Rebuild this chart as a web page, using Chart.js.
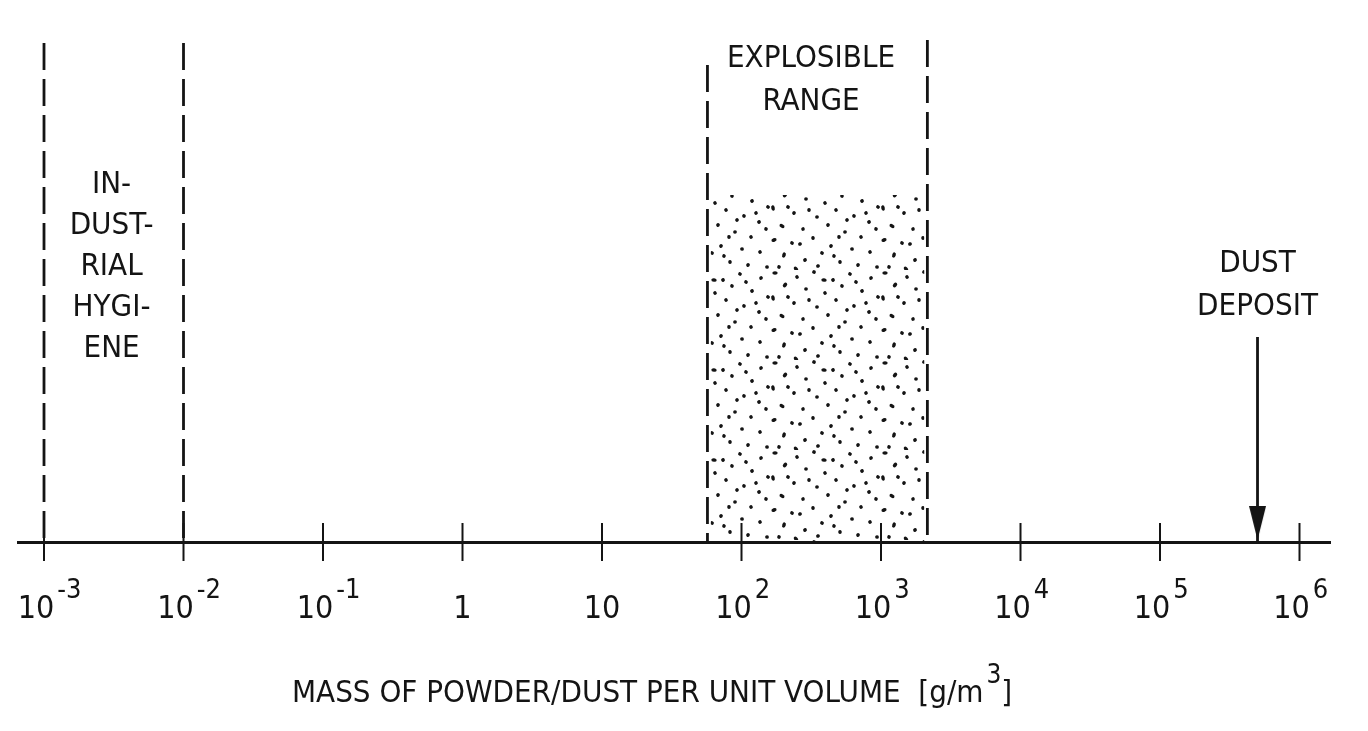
<!DOCTYPE html>
<html>
<head>
<meta charset="utf-8">
<script src="https://cdn.jsdelivr.net/npm/chart.js@4.4.1/dist/chart.umd.min.js"></script>
<style>
  html, body { margin: 0; padding: 0; background: #fff; }
</style>
</head>
<body>
<canvas id="dustChart" width="1368" height="731"></canvas>
<script>
// ---- data ----
const decades = [1e-3, 1e-2, 1e-1, 1, 10, 1e2, 1e3, 1e4, 1e5, 1e6];
const tickBases = ['10', '10', '10', '1', '10', '10', '10', '10', '10', '10'];
const tickExps = ['-3', '-2', '-1', '', '', '2', '3', '4', '5', '6'];
const hygieneBounds = [1e-3, 1e-2];
const explosibleBounds = [57, 2150];
const dustDeposit = 5e5;
const hygieneText = ['IN-', 'DUST-', 'RIAL', 'HYGI-', 'ENE'];
const explosibleText = ['EXPLOSIBLE', 'RANGE'];
const depositText = ['DUST', 'DEPOSIT'];
const axisTitle = 'MASS OF POWDER/DUST PER UNIT VOLUME  [g/m';

// ---- layout / style ----
const INK = '#141414';
const FONT = "'Liberation Sans Narrow', 'DejaVu Sans Condensed', sans-serif";
const DASH = [27, 9];

const labelBlocks = [
  { x: 3.05e-3, lines: hygieneText, top: 349, step: 41 },
  { x: 315, lines: explosibleText, top: 475, step: 43 },
  { x: dustDeposit, lines: depositText, top: 270, step: 43 }
];

// stipple pattern for the explosible range
function stipple() {
  const c = document.createElement('canvas');
  c.width = 110; c.height = 90;
  const g = c.getContext('2d');
  g.fillStyle = INK;
  const dots = [[5,3],[27,7],[44,2],[63,10],[80,4],[101,8],
    [15,15],[36,19],[55,23],[72,16],[92,21],[108,27],
    [3,28],[24,33],[47,37],[66,30],[84,36],[99,42],
    [12,46],[33,49],[58,45],[75,52],[91,57],[106,49],
    [4,60],[22,63],[43,58],[61,66],[82,69],[100,72],
    [14,75],[35,80],[52,73],[70,82],[88,85],[107,87],
    [26,89],[9,87],[48,86],[18,27],[39,30],[77,40],
    [54,10],[96,33],[64,76],[30,64],[86,12],[69,57]];
  dots.forEach(([x, y], i) => {
    g.beginPath();
    g.ellipse(x, y, i % 6 === 0 ? 2.7 : 1.9, 1.8, i * 0.9, 0, Math.PI * 2);
    g.fill();
  });
  return g.createPattern(c, 'repeat');
}

// arrow head used as point style
function arrowHead() {
  const c = document.createElement('canvas');
  c.width = 17; c.height = 34;
  const g = c.getContext('2d');
  g.fillStyle = INK;
  g.beginPath();
  g.moveTo(0, 0); g.lineTo(17, 0); g.lineTo(8.5, 34); g.closePath();
  g.fill();
  return c;
}

function vline(x, top, dash) {
  return {
    data: [{ x: x, y: top }, { x: x, y: 0 }],
    showLine: true, borderColor: INK, borderWidth: 2.8, borderDash: dash || [],
    pointRadius: 0, clip: false, order: 2
  };
}

// text with a raised exponent; anchor = centre of the base part
function drawSup(ctx, parts, x, y, size, shift) {
  const supSize = Math.round(size * 0.85);
  ctx.font = size + 'px ' + FONT;
  const wb = ctx.measureText(parts[0].t).width;
  let cx = x - wb / 2 - (shift || 0);
  parts.forEach(p => {
    if (!p.t) return;
    ctx.font = (p.sup ? supSize : size) + 'px ' + FONT;
    const off = p.sup ? 3 : 0;
    ctx.fillText(p.t, cx + off, p.sup ? y - size * 0.62 : y);
    cx += ctx.measureText(p.t).width + off;
  });
}

const textPlugin = {
  id: 'figureText',
  afterDatasetsDraw(chart) {
    const { ctx, scales: { x, y } } = chart;
    ctx.save();
    ctx.fillStyle = INK;
    ctx.textBaseline = 'alphabetic';
    ctx.textAlign = 'left';
    // tick labels
    decades.forEach((v, i) => {
      drawSup(ctx, [{ t: tickBases[i] }, { t: tickExps[i], sup: true }],
        x.getPixelForValue(v), y.bottom + 76, 32, tickExps[i] ? 8 : 0);
    });
    // axis title
    ctx.font = '31px ' + FONT;
    drawSup(ctx, [{ t: axisTitle }, { t: '3', sup: true }, { t: ']' }],
      292 + ctx.measureText(axisTitle).width / 2, y.bottom + 160, 31, 0);
    // region labels
    ctx.font = '31px ' + FONT;
    ctx.textAlign = 'center';
    labelBlocks.forEach(b => {
      b.lines.forEach((t, i) => {
        ctx.fillText(t, x.getPixelForValue(b.x), y.getPixelForValue(b.top - i * b.step));
      });
    });
    ctx.restore();
  }
};

new Chart(document.getElementById('dustChart'), {
  type: 'scatter',
  data: {
    datasets: [
      // stippled explosible range
      {
        data: [{ x: 60, y: 347 }, { x: 2050, y: 347 }],
        showLine: true, borderWidth: 0, pointRadius: 0,
        fill: 'origin', backgroundColor: stipple(), clip: false, order: 5
      },
      vline(hygieneBounds[0], 499, DASH),
      vline(hygieneBounds[1], 499, DASH),
      vline(explosibleBounds[0], 477, DASH),
      vline(explosibleBounds[1], 502, DASH),
      // dust deposit arrow
      vline(dustDeposit, 205),
      {
        data: [{ x: dustDeposit, y: 19 }],
        pointStyle: arrowHead(), pointRadius: 10, clip: false, order: 1
      },
      // decade tick marks
      {
        data: decades.map(v => ({ x: v, y: 0 })),
        pointStyle: 'line', rotation: 90, pointRadius: 19,
        borderColor: INK, pointBorderWidth: 2, clip: false, order: 0
      }
    ]
  },
  options: {
    responsive: false,
    animation: false,
    events: [],
    layout: { autoPadding: false, padding: { top: 33, left: 18, right: 38, bottom: 0 } },
    plugins: { legend: { display: false }, tooltip: { enabled: false } },
    scales: {
      x: {
        type: 'logarithmic',
        min: Math.pow(10, -3.1864),
        max: Math.pow(10, 6.2186),
        afterBuildTicks: s => { s.ticks = decades.map(v => ({ value: v })); },
        afterFit: s => { s.height = 189; },
        grid: { display: false },
        border: { display: true, color: INK, width: 3 },
        ticks: { display: false }
      },
      y: { type: 'linear', min: 0, max: 509, display: false }
    }
  },
  plugins: [textPlugin]
});
</script>
</body>
</html>
